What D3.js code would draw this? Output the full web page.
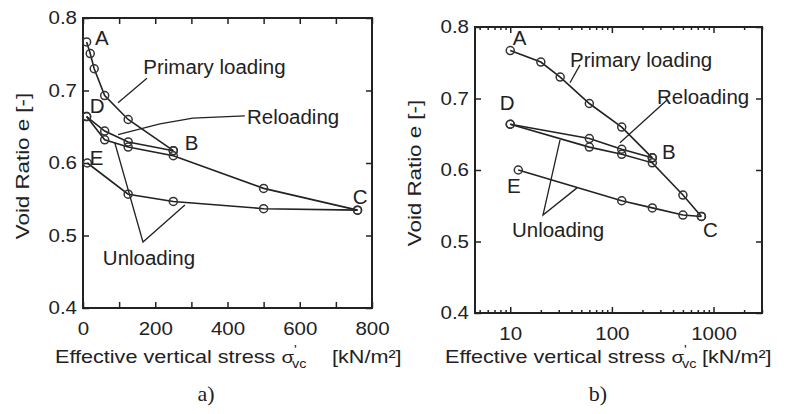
<!DOCTYPE html>
<html lang="en">
<head>
<meta charset="utf-8">
<title>Void ratio vs effective vertical stress</title>
<script src="https://cdn.jsdelivr.net/npm/d3@7/dist/d3.min.js"></script>
<style>
body { margin: 0; background: #fff; }
text { font-family: "Liberation Sans", Arial, sans-serif; fill: #222; }
</style>
</head>
<body>
<script>

// oedometer test: stress [kN/m2] and void ratio e
var primaryStress = [10, 20, 31, 60, 125, 250];
var primaryE      = [0.767, 0.751, 0.730, 0.693, 0.660, 0.617];
var unload1Stress = [250, 125, 60, 10];
var unload1E      = [0.617, 0.629, 0.644, 0.664];
var reloadStress  = [10, 60, 125, 250, 500, 760];
var reloadE       = [0.664, 0.632, 0.622, 0.610, 0.565, 0.535];
var unload2Stress = [760, 500, 250, 125, 12];
var unload2E      = [0.535, 0.537, 0.547, 0.557, 0.600];

var linTicks = [0, 200, 400, 600, 800];
var logTicks = [10, 100, 1000];
var eTicks = [0.4, 0.5, 0.6, 0.7, 0.8];

// annotations, in data units [text, stress, e]
var lettersA = [["A", 33, 0.772], ["D", 19, 0.679], ["B", 282, 0.628], ["E", 19, 0.607], ["C", 747, 0.553]];
var notesA = [["Primary loading", 167, 0.732], ["Reloading", 454, 0.663], ["Unloading", 55, 0.469]];
var leadersA = [
	[[177, 0.717], [97, 0.683]],
	[[448, 0.665], [304, 0.662], [213, 0.654], [97, 0.639]],
	[[88, 0.628], [166, 0.491], [282, 0.542]]
];
var lettersB = [["A", 10.6, 0.785], ["D", 7.9, 0.694], ["B", 312, 0.625], ["E", 9.3, 0.578], ["C", 789, 0.516]];
var notesB = [["Primary loading", 38.7, 0.754], ["Reloading", 278, 0.702], ["Unloading", 10.4, 0.516]];
var leadersB = [
	[[48.6, 0.747], [38.7, 0.722]],
	[[349, 0.698], [120, 0.638]],
	[[30.9, 0.642], [21, 0.537], [45.4, 0.575]]
];

var w = 795, h = 414;

var svg = d3.select("body").append("svg")
	.attr("width", w)
	.attr("height", h);

function zip(xs, ys) { return xs.map(function(x, i) { return [x, ys[i]]; }); }
var series = [
	zip(primaryStress, primaryE),
	zip(unload1Stress, unload1E),
	zip(reloadStress, reloadE),
	zip(unload2Stress, unload2E)
];

// text in the picture is wider than a plain Arial, so stretch it a bit
function stretchTicks(g, sx) {
	g.selectAll(".tick text").each(function() {
		var t = d3.select(this);
		var x = +t.attr("x") || 0;
		t.attr("x", x / sx).attr("transform", "scale(" + sx + ",1)");
	});
}

var panels = [
	{ log: false, xDomain: [0, 800], xRange: [83, 372], yRange: [308, 18],
	  letters: lettersA, notes: notesA, leaders: leadersA, titleX: 55, unitX: 332, tag: "a)", tagX: 206 },
	{ log: true, xDomain: [4.5, 3000], xRange: [475, 762], yRange: [313, 27],
	  letters: lettersB, notes: notesB, leaders: leadersB, titleX: 445, unitX: 702, tag: "b)", tagX: 598 }
];

panels.forEach(function(p) {
	var x = (p.log ? d3.scaleLog() : d3.scaleLinear()).domain(p.xDomain).range(p.xRange);
	var y = d3.scaleLinear().domain([0.4, 0.8]).range(p.yRange);
	var left = p.xRange[0], right = p.xRange[1], top = p.yRange[1], bottom = p.yRange[0];

	var g = svg.append("g");

	// ticks
	var bottomAxis, topAxis;
	if (p.log) {
		var minor = x.ticks().filter(function(v) { return logTicks.indexOf(v) < 0; });
		[[d3.axisBottom, bottom], [d3.axisTop, top]].forEach(function(a) {
			g.append("g").attr("transform", "translate(0," + a[1] + ")")
				.call(a[0](x).tickValues(minor).tickSize(-3).tickFormat(""))
				.call(function(s) { s.select(".domain").remove(); });
		});
		bottomAxis = d3.axisBottom(x).tickValues(logTicks).tickSize(-6).tickPadding(14).tickFormat(d3.format("d"));
		topAxis = d3.axisTop(x).tickValues(logTicks).tickSize(-6).tickFormat("");
	} else {
		bottomAxis = d3.axisBottom(x).ticks(8).tickSize(-6).tickPadding(14)
			.tickFormat(function(d) { return linTicks.indexOf(d) >= 0 ? d : ""; });
		topAxis = d3.axisTop(x).ticks(8).tickSize(-6).tickFormat("");
	}
	var gb = g.append("g").attr("transform", "translate(0," + bottom + ")").call(bottomAxis);
	g.append("g").attr("transform", "translate(0," + top + ")").call(topAxis);
	var gl = g.append("g").attr("transform", "translate(" + left + ",0)")
		.call(d3.axisLeft(y).tickValues(eTicks).tickSize(-6).tickPadding(6).tickFormat(d3.format(".1f")));
	g.append("g").attr("transform", "translate(" + right + ",0)")
		.call(d3.axisRight(y).tickValues(eTicks).tickSize(-6).tickFormat(""));

	g.selectAll(".domain").remove();
	g.selectAll(".tick line").attr("stroke", "#222").attr("stroke-width", 1.5);
	g.selectAll(".tick text").attr("font-size", 18).attr("font-family", "Liberation Sans, Arial, sans-serif").attr("fill", "#222");
	stretchTicks(gb, 1.14);
	stretchTicks(gl, 1.14);

	// frame
	g.append("rect")
		.attr("x", left).attr("y", top)
		.attr("width", right - left).attr("height", bottom - top)
		.attr("fill", "none").attr("stroke", "#222").attr("stroke-width", 2);

	// data lines and circles
	var line = d3.line().x(function(d) { return x(d[0]); }).y(function(d) { return y(d[1]); });
	series.forEach(function(s) {
		g.append("path").datum(s).attr("d", line)
			.attr("fill", "none").attr("stroke", "#222").attr("stroke-width", 1.6);
		g.selectAll(null).data(s).enter().append("circle")
			.attr("cx", function(d) { return x(d[0]); })
			.attr("cy", function(d) { return y(d[1]); })
			.attr("r", 4)
			.attr("fill", "none").attr("stroke", "#333").attr("stroke-width", 1.5);
	});

	// leader lines
	p.leaders.forEach(function(l) {
		g.append("path").datum(l).attr("d", line)
			.attr("fill", "none").attr("stroke", "#222").attr("stroke-width", 1.3);
	});

	// labels
	p.letters.concat(p.notes).forEach(function(n) {
		g.append("text")
			.attr("transform", "translate(" + x(n[1]) + "," + y(n[2]) + ") scale(1.05,1)")
			.attr("dy", "0.35em")
			.attr("font-size", 19.5)
			.text(n[0]);
	});

	// axis titles
	svg.append("text")
		.attr("transform", "translate(" + (left - 60) + "," + ((top + bottom) / 2 + 3) + ") rotate(-90) scale(1.24,1)")
		.attr("text-anchor", "middle")
		.attr("dy", "0.35em")
		.attr("font-size", 18)
		.text("Void Ratio e [-]");

	var xt = svg.append("text")
		.attr("transform", "translate(" + p.titleX + ",363) scale(1.2,1)")
		.attr("font-size", 18);
	xt.append("tspan").text("Effective vertical stress ");
	xt.append("tspan").attr("font-size", 17).text("σ");
	xt.append("tspan").attr("font-size", 12).attr("dy", -9).attr("dx", 0).text("'");
	xt.append("tspan").attr("font-size", 12).attr("dy", 14).attr("dx", -4).text("vc");

	svg.append("text")
		.attr("transform", "translate(" + p.unitX + ",363) scale(1.2,1)")
		.attr("font-size", 18)
		.text("[kN/m²]");

	svg.append("text")
		.attr("x", p.tagX).attr("y", 401)
		.attr("text-anchor", "middle")
		.style("font-family", "Liberation Serif, serif")
		.attr("font-size", 22)
		.text(p.tag);
});

</script>
</body>
</html>
